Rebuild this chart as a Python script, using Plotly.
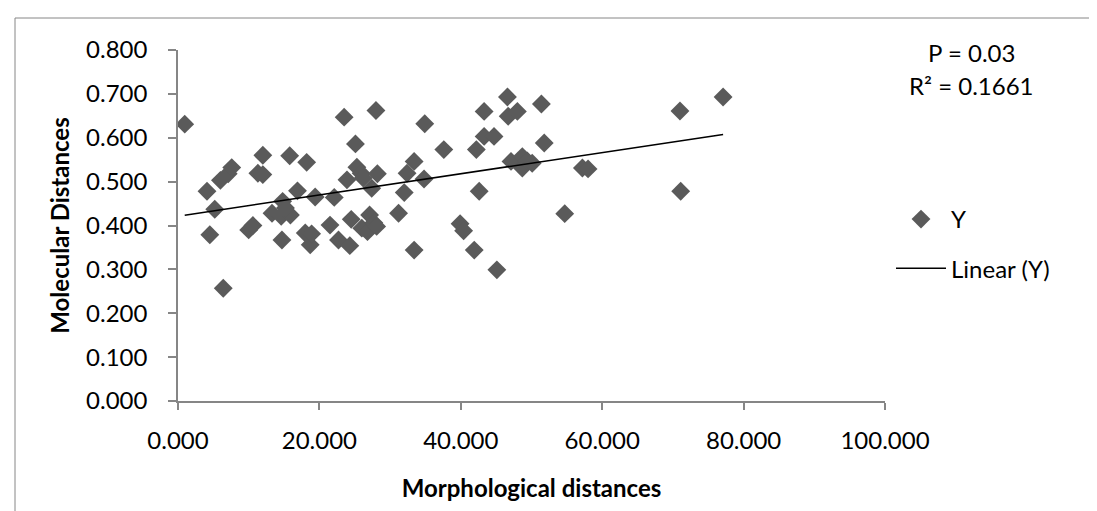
import numpy as np
import plotly.graph_objects as go

# ---- data ----
morph_dist = [0.95, 4.1, 5.2, 4.5, 6.0, 6.4, 7.1, 7.6, 10.0, 10.6, 11.3, 12.0, 12.0, 13.3, 14.6,
              14.8, 14.7, 15.9, 15.2, 15.8, 16.9, 18.0, 18.7, 18.9, 18.2, 19.4, 21.5, 22.1, 22.7,
              23.5, 23.9, 24.3, 24.5, 25.1, 25.3, 25.9, 26.2, 26.0, 26.8, 27.1, 27.7, 28.1, 27.4,
              28.2, 28.0, 31.2, 32.0, 32.4, 33.4, 33.4, 34.8, 34.9, 37.6, 39.9, 40.4, 41.9, 42.2,
              42.6, 43.3, 43.3, 44.7, 45.1, 46.6, 46.7, 47.1, 48.0, 48.7, 48.7, 49.4, 50.1, 51.4,
              51.8, 54.7, 57.2, 58.0, 71.0, 71.1, 77.1]
mol_dist = [0.631, 0.478, 0.437, 0.379, 0.503, 0.257, 0.518, 0.532, 0.390, 0.400, 0.519, 0.516,
            0.560, 0.428, 0.421, 0.455, 0.367, 0.424, 0.440, 0.559, 0.479, 0.383, 0.356, 0.381,
            0.544, 0.465, 0.401, 0.464, 0.367, 0.647, 0.504, 0.354, 0.414, 0.586, 0.533, 0.519,
            0.508, 0.394, 0.386, 0.424, 0.406, 0.398, 0.485, 0.518, 0.662, 0.428, 0.475, 0.519,
            0.546, 0.344, 0.506, 0.632, 0.573, 0.404, 0.388, 0.344, 0.573, 0.478, 0.603, 0.660,
            0.603, 0.299, 0.693, 0.649, 0.546, 0.660, 0.557, 0.531, 0.547, 0.542, 0.677, 0.588,
            0.427, 0.531, 0.529, 0.661, 0.478, 0.693]
x_ticks = [0, 20, 40, 60, 80, 100]
y_ticks = [0.0, 0.1, 0.2, 0.3, 0.4, 0.5, 0.6, 0.7, 0.8]
stats_text = ["P = 0.03", "R\u00b2 = 0.1661"]

# ---- layout geometry (pixels) ----
W, H = 1097, 511
ML, MR, MT, MB = 170, 220, 42, 118
PW, PH = W - ML - MR, H - MT - MB


def px_x(px):
    return (px - ML) / PW


def px_y(py):
    return (H - MB - py) / PH


FONT = "Lato, Carlito, 'Open Sans', sans-serif"
GRAY = "#868686"
MARK = "#5a5a5a"

# linear trend fitted from the data
xs = np.array(morph_dist)
ys = np.array(mol_dist)
slope, intercept = np.polyfit(xs, ys, 1)
x_line = [xs.min(), xs.max()]
y_line = [intercept + slope * v for v in x_line]

fig = go.Figure()
fig.add_trace(go.Scatter(
    x=morph_dist, y=mol_dist, mode="markers", name="Y", legendgroup="a",
    marker=dict(symbol="diamond", size=14.5, color=MARK, line=dict(width=0)),
))
fig.add_trace(go.Scatter(
    x=x_line, y=y_line, mode="lines", name="Linear (Y)", legendgroup="b",
    line=dict(color="black", width=1.6),
))

fig.update_layout(
    width=W, height=H,
    margin=dict(l=ML, r=MR, t=MT, b=MB, pad=0),
    paper_bgcolor="white", plot_bgcolor="white",
    font=dict(family=FONT, size=24, color="black"),
    showlegend=True,
    legend=dict(
        x=px_x(883), y=px_y(189), xanchor="left", yanchor="top",
        xref="paper", yref="paper",
        font=dict(size=24, family=FONT, color="black"),
        itemwidth=50, tracegroupgap=15, bgcolor="rgba(0,0,0,0)",
    ),
    xaxis=dict(
        range=[0, 100], tickmode="array", tickvals=x_ticks,
        ticktext=[f"{v:.3f}" for v in x_ticks],
        showgrid=False, zeroline=False, showline=True, linecolor=GRAY, linewidth=1.5,
        ticks="outside", ticklen=7, tickwidth=1.5, tickcolor=GRAY,
        tickfont=dict(size=24, family=FONT), ticklabelstandoff=10,
        title=dict(text="<b>Morphological distances</b>", font=dict(size=24, family=FONT), standoff=28),
        automargin=False,
    ),
    yaxis=dict(
        range=[0, 0.8], tickmode="array", tickvals=y_ticks,
        ticktext=[f"{v:.3f}" for v in y_ticks],
        showgrid=False, zeroline=False, showline=True, linecolor=GRAY, linewidth=1.5,
        ticks="outside", ticklen=8, tickwidth=1.5, tickcolor=GRAY,
        tickfont=dict(size=24, family=FONT), ticklabelstandoff=16,
        title=dict(text="<b>Molecular Distances</b>", font=dict(size=24, family=FONT), standoff=10),
        automargin=False,
    ),
)

# statistics annotations
for txt, py in zip(stats_text, [45, 77]):
    fig.add_annotation(
        x=px_x(963), y=px_y(py), xref="paper", yref="paper", text=txt,
        showarrow=False, xanchor="center", yanchor="middle",
        font=dict(size=24, family=FONT, color="black"),
    )

# chart-area border (left and top visible)
fig.add_shape(type="rect", xref="paper", yref="paper",
              x0=px_x(7), x1=px_x(W + 5), y0=px_y(H + 5), y1=px_y(10),
              line=dict(color=GRAY, width=1), fillcolor="rgba(0,0,0,0)", layer="below")

fig.write_html("out.html")
